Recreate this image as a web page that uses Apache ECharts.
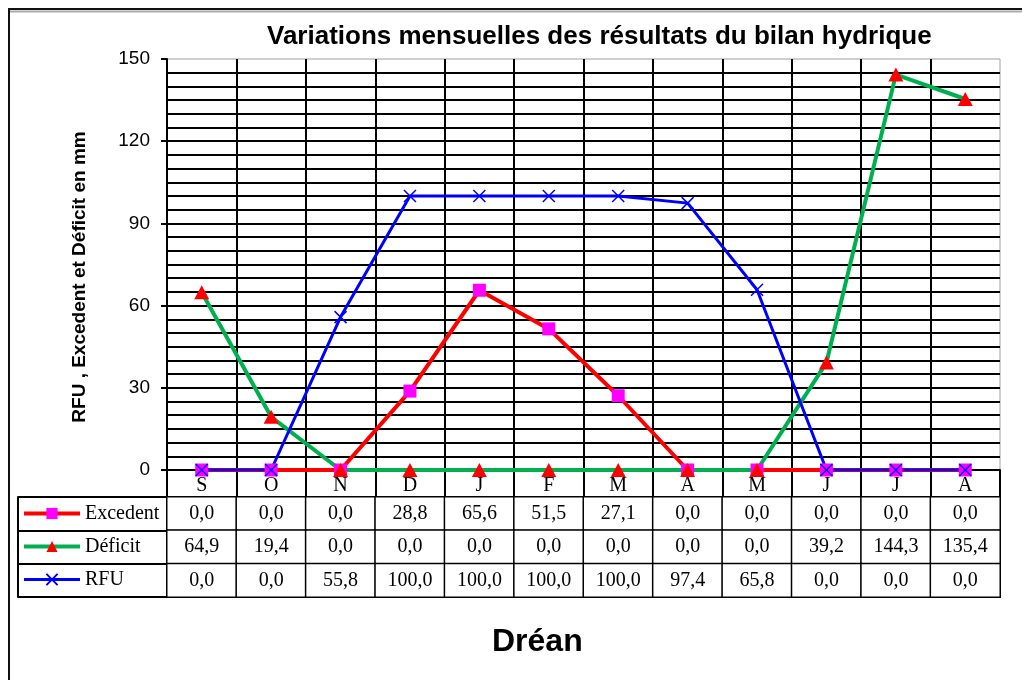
<!DOCTYPE html>
<html>
<head>
<meta charset="utf-8">
<script src="https://cdn.jsdelivr.net/npm/echarts@6/dist/echarts.min.js"></script>
<style>
html,body{margin:0;padding:0;background:#fff;}
#chart{width:1022px;height:680px;}
</style>
</head>
<body>
<div id="chart"></div>
<script>
const months = ['S','O','N','D','J','F','M','A','M','J','J','A'];
const excedent = [0.0,0.0,0.0,28.8,65.6,51.5,27.1,0.0,0.0,0.0,0.0,0.0];
const deficit = [64.9,19.4,0.0,0.0,0.0,0.0,0.0,0.0,0.0,39.2,144.3,135.4];
const rfu = [0.0,0.0,55.8,100.0,100.0,100.0,100.0,97.4,65.8,0.0,0.0,0.0];
const seriesNames = ['Excedent','Déficit','RFU'];
const yTicks = [0,30,60,90,120,150];

const tableValues = [excedent, deficit, rfu];
const tableData = [];
tableValues.forEach((arr, r) => arr.forEach((v, c) => tableData.push([c, r, v])));
const fmt = v => v.toFixed(1).replace('.', ',');

const black = {color:'#000', width:2};
const serif = 'Liberation Serif';
const chart = echarts.init(document.getElementById('chart'));
chart.setOption({
  animation:false,
  backgroundColor:'#fff',
  title:[
    {text:'Variations mensuelles des résultats du bilan hydrique', left:262, top:19,
     textStyle:{fontFamily:'Liberation Sans', fontSize:26, fontWeight:'bold', color:'#000'}},
    {text:'Dréan', left:487, top:621,
     textStyle:{fontFamily:'Liberation Sans', fontSize:32, fontWeight:'bold', color:'#000'}}
  ],
  graphic:[
    {type:'line', shape:{x1:8, y1:9, x2:1022, y2:9}, style:{stroke:'#111', lineWidth:2}, silent:true},
    {type:'line', shape:{x1:8, y1:11.5, x2:1022, y2:11.5}, style:{stroke:'#aaa', lineWidth:2}, silent:true},
    {type:'line', shape:{x1:9, y1:8, x2:9, y2:680}, style:{stroke:'#111', lineWidth:2}, silent:true},
    {type:'text', x:80, y:277, rotation:Math.PI/2,
     style:{text:'RFU , Excedent et Déficit en mm', fontFamily:'Liberation Sans', fontSize:19, fontWeight:'bold',
            fill:'#000', align:'center', verticalAlign:'middle'}}
  ],
  legend:{
    orient:'vertical', left:22, top:503.5, padding:0, itemWidth:56, itemHeight:14, itemGap:13,
    data:[
      {name:'Excedent', lineStyle:{width:4}},
      {name:'Déficit', lineStyle:{width:4}},
      {name:'RFU', lineStyle:{width:3}}
    ],
    textStyle:{fontFamily:serif, fontSize:20, lineHeight:20, color:'#000'}
  },
  visualMap:{show:false, seriesIndex:3, dimension:2, min:0, max:200, inRange:{color:['#ffffff','#ffffff']}},
  grid:[
    {left:167, right:22, top:59, bottom:210, show:true, borderColor:'#a0a0a0', borderWidth:1, containLabel:false},
    {left:167, right:22, top:497, bottom:83, containLabel:false}
  ],
  xAxis:[
    {type:'category', gridIndex:0, data:months, boundaryGap:true,
     axisLine:{lineStyle:black},
     axisTick:{show:true, length:27, interval:0, alignWithLabel:false, lineStyle:black},
     axisLabel:{interval:0, margin:6, fontFamily:serif, fontSize:20, color:'#000'},
     splitLine:{show:true, interval:0, showMinLine:false, showMaxLine:false, lineStyle:black}},
    {type:'category', gridIndex:1, data:months, boundaryGap:true,
     axisLine:{show:false}, axisTick:{show:false}, axisLabel:{show:false}, splitLine:{show:false}}
  ],
  yAxis:[
    {type:'value', gridIndex:0, min:0, max:150, interval:30,
     axisLine:{show:true, lineStyle:black},
     axisTick:{show:true, length:6, lineStyle:black},
     axisLabel:{margin:17, fontFamily:'Liberation Sans', fontSize:19, color:'#000',
                formatter:v => yTicks.includes(v) ? String(v) : ''},
     splitLine:{show:true, showMaxLine:false, lineStyle:black},
     minorTick:{show:false, splitNumber:6},
     minorSplitLine:{show:true, lineStyle:black}},
    {type:'category', gridIndex:1, data:seriesNames, inverse:true,
     axisLine:{show:false}, axisLabel:{show:false},
     axisTick:{show:true, length:149, interval:0, alignWithLabel:false, lineStyle:black},
     splitLine:{show:false}},
    {type:'category', gridIndex:1, data:seriesNames, inverse:true, position:'left', offset:149,
     axisLine:{show:true, lineStyle:black}, axisLabel:{show:false}, axisTick:{show:false}, splitLine:{show:false}}
  ],
  series:[
    {name:'Excedent', type:'line', xAxisIndex:0, yAxisIndex:0, data:excedent,
     symbol:'rect', symbolSize:13,
     lineStyle:{color:'#ff0000', width:4}, itemStyle:{color:'#ff00ff'}},
    {name:'Déficit', type:'line', xAxisIndex:0, yAxisIndex:0, data:deficit,
     symbol:'triangle', symbolSize:[15,14],
     lineStyle:{color:'#00b050', width:4}, itemStyle:{color:'#ff0000'}},
    {name:'RFU', type:'line', xAxisIndex:0, yAxisIndex:0, data:rfu,
     symbol:'path://M0,0L10,10M10,0L0,10', symbolSize:12,
     lineStyle:{color:'#0000ff', width:3}, itemStyle:{color:'#0000ff', borderColor:'#0000ff', borderWidth:1.5}},
    {name:'table', type:'heatmap', xAxisIndex:1, yAxisIndex:1, data:tableData,
     itemStyle:{borderColor:'#000', borderWidth:1.5},
     label:{show:true, formatter:p => fmt(p.value[2]), fontFamily:serif, fontSize:20, color:'#000'},
     emphasis:{disabled:true}}
  ]
});
</script>
</body>
</html>
